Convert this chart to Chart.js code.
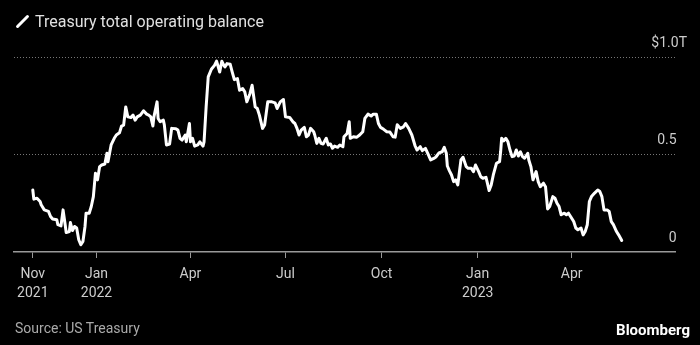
<!DOCTYPE html>
<html>
<head>
<meta charset="utf-8">
<script src="https://cdn.jsdelivr.net/npm/chart.js@4"></script>
<style>
  html, body { margin: 0; padding: 0; background: #000; }
  #wrap { position: relative; width: 700px; height: 345px; background: #000; font-family: Roboto, sans-serif; }
  #chartBox { position: absolute; left: 0; top: 0; width: 700px; height: 345px; }
  .pen { position: absolute; left: 14px; top: 20px; width: 17px; height: 3px; background: #fff; border-radius: 1.5px; transform: rotate(-45deg); }
  .title { position: absolute; left: 35px; top: 12px; font-size: 16px; line-height: 20px; color: #e0e0e0; }
  .source { position: absolute; left: 15px; top: 320px; font-size: 14px; line-height: 16px; color: #aaa; }
  .brand { position: absolute; right: 10px; top: 322px; font-size: 15px; line-height: 16px; font-weight: bold; color: #fff; }
</style>
</head>
<body>
<div id="wrap">
  <div id="chartBox"><canvas id="chart"></canvas></div>
  <div class="pen"></div>
  <div class="title">Treasury total operating balance</div>
  <div class="source">Source: US Treasury</div>
  <div class="brand">Bloomberg</div>
</div>
<script>
// days since Nov 1 2021
const dayOffsets = [
  0,1,4,7,8,11,15,17,19,23, 24,27,29,31,32,35,36,38,40,42,
  44,46,48,50,51,54,56,58,60,62, 64,66,69,71,72,75,78,80,83,85,
  87,89,91,94,96,98,100,103,106,109, 111,113,115,116,119,120,122,125,126,128,
  131,133,137,139,141,143,146,147,150,151, 153,155,158,160,163,164,166,168,171,174,
  176,179,181,183,184,186,189,191,193,196, 198,201,203,205,208,210,213,215,217,220,
  222,225,229,232,234,237,240,242,246,249, 251,253,255,257,260,262,264,266,269,270,
  272,274,276,278,281,283,285,287,289,292, 294,297,298,301,303,304,307,310,313,316,
  318,321,324,326,329,331,333,336,339,342, 345,347,349,352,355,357,360,363,366,368,
  371,373,376,378,381,384,386,389,392,394, 396,397,399,401,403,405,407,410,412,415,
  417,420,422,424,427,429,431,434,435,437, 439,441,444,447,448,449,451,453,455,457,
  459,461,463,465,467,469,471,474,475,477, 479,482,484,486,489,491,493,495,498,500,
  502,504,506,509,511,513,515,518,520,522, 525,527,529,531,533,535,538,541,543,545,
  547,550,552,554,556,559,561,564
];
// balance, $ trillions
const balances = [
  0.318,0.271,0.276,0.259,0.242,0.216,0.208,0.182,0.169,0.165, 0.140,0.134,0.216,0.140,0.100,0.105,0.151,0.110,0.131,0.123,
  0.063,0.037,0.054,0.131,0.199,0.199,0.233,0.284,0.404,0.370, 0.438,0.446,0.451,0.506,0.463,0.549,0.583,0.600,0.611,0.646,
  0.651,0.744,0.693,0.690,0.702,0.676,0.693,0.702,0.724,0.707, 0.702,0.693,0.646,0.693,0.770,0.685,0.668,0.676,0.651,0.549,
  0.554,0.634,0.632,0.625,0.583,0.574,0.600,0.565,0.659,0.565, 0.583,0.543,0.549,0.565,0.543,0.565,0.744,0.898,0.937,0.957,
  0.979,0.923,0.978,0.957,0.949,0.966,0.963,0.923,0.884,0.889, 0.830,0.838,0.821,0.770,0.813,0.855,0.744,0.736,0.702,0.634,
  0.651,0.770,0.770,0.765,0.736,0.770,0.782,0.693,0.690,0.668, 0.659,0.634,0.600,0.625,0.639,0.591,0.600,0.634,0.617,0.600,
  0.557,0.583,0.557,0.554,0.583,0.549,0.554,0.532,0.543,0.537, 0.549,0.540,0.591,0.608,0.668,0.583,0.591,0.588,0.600,0.617,
  0.685,0.707,0.697,0.707,0.707,0.659,0.639,0.629,0.617,0.615, 0.591,0.589,0.653,0.634,0.642,0.659,0.634,0.600,0.546,0.523,
  0.540,0.520,0.531,0.508,0.472,0.480,0.487,0.508,0.514,0.537, 0.506,0.441,0.416,0.395,0.361,0.370,0.344,0.472,0.486,0.438,
  0.429,0.429,0.412,0.446,0.412,0.386,0.378,0.383,0.361,0.315, 0.344,0.395,0.455,0.463,0.514,0.583,0.570,0.583,0.565,0.523,
  0.489,0.492,0.523,0.492,0.514,0.489,0.481,0.506,0.472,0.438, 0.370,0.412,0.361,0.335,0.353,0.335,0.221,0.233,0.284,0.276,
  0.250,0.233,0.191,0.199,0.191,0.199,0.182,0.156,0.123,0.114, 0.123,0.088,0.105,0.140,0.259,0.284,0.302,0.318,0.310,0.284,
  0.216,0.216,0.208,0.156,0.140,0.105,0.088,0.059
];

const xTickDays = [0, 61, 151, 242, 334, 426, 516];
const xTickLabels = [["Nov", "2021"], ["Jan", "2022"], ["Apr"], ["Jul"], ["Oct"], ["Jan", "2023"], ["Apr"]];
const yTickValues = [0, 0.5, 1];
const yTickLabels = ["0   ", "0.5   ", "$1.0T"];

const points = dayOffsets.map((d, i) => ({ x: d, y: balances[i] }));

new Chart(document.getElementById("chart"), {
  type: "line",
  data: {
    datasets: [{
      data: points,
      borderColor: "#fff",
      borderWidth: 3,
      pointRadius: 0,
      tension: 0,
      borderJoinStyle: "round",
      borderCapStyle: "round"
    }]
  },
  options: {
    responsive: true,
    maintainAspectRatio: false,
    animation: false,
    layout: { padding: { left: 14, right: 25, top: 57, bottom: 43 } },
    plugins: { legend: { display: false }, tooltip: { enabled: false } },
    scales: {
      x: {
        type: "linear",
        min: -18,
        max: 615,
        afterBuildTicks: s => { s.ticks = xTickDays.map(v => ({ value: v })); },
        afterFit: s => { s.height = 50; },
        grid: { drawOnChartArea: false, drawTicks: true, tickLength: 6, color: "#999", lineWidth: 1 },
        border: { display: true, color: "#999", width: 1.5 },
        ticks: {
          color: "#ccc",
          font: { family: "Roboto", size: 14, lineHeight: 1.36 },
          padding: 7,
          maxRotation: 0,
          autoSkip: false,
          callback: v => xTickLabels[xTickDays.indexOf(v)]
        }
      },
      y: {
        position: "right",
        min: 0,
        max: 1,
        afterBuildTicks: s => { s.ticks = yTickValues.map(v => ({ value: v })); },
        afterFit: s => { s.width = 0; },
        grid: {
          drawTicks: false,
          lineWidth: 1,
          color: ctx => (ctx.tick && ctx.tick.value === 0) ? "rgba(0,0,0,0)" : "#777"
        },
        border: { display: false, dash: [1, 2] },
        ticks: {
          mirror: true,
          padding: 12,
          labelOffset: -14,
          color: "#ccc",
          font: { family: "Roboto", size: 14 },
          callback: v => yTickLabels[yTickValues.indexOf(v)]
        }
      }
    }
  }
});
</script>
</body>
</html>
